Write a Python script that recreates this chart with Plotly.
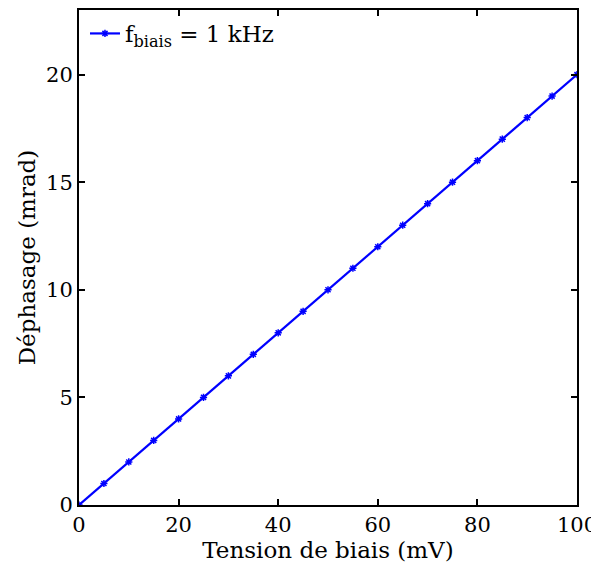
import plotly.graph_objects as go

tension_mv = [0, 5, 10, 15, 20, 25, 30, 35, 40, 45, 50, 55, 60, 65, 70, 75, 80, 85, 90, 95, 100]
dephasage_mrad = [0, 1, 2, 3, 4, 5, 6, 7, 8, 9, 10, 11, 12, 13, 14, 15, 16, 17, 18, 19, 20]
x_ticks = [0, 20, 40, 60, 80, 100]
y_ticks = [0, 5, 10, 15, 20]

font_family = "DejaVu Serif"

fig = go.Figure()
fig.add_trace(go.Scatter(
    x=tension_mv, y=dephasage_mrad, mode="lines+markers",
    name="f<sub>biais</sub> = 1 kHz",
    line=dict(color="#0000ff", width=2.2),
    marker=dict(symbol="asterisk", size=6, color="#0000ff", line=dict(color="#0000ff", width=1.5)),
))

axis_common = dict(
    showgrid=False, zeroline=False, showline=True, linecolor="black", linewidth=2,
    mirror="ticks", ticks="inside", ticklen=6, tickwidth=1.5, tickcolor="black",
    tickfont=dict(family=font_family, size=21, color="black"),
    automargin=False,
)

# the page body has an 8 px default margin, so the figure is offset by (8, 8)
fig.update_layout(
    width=599, height=570,
    margin=dict(l=71, r=30, t=2, b=73),
    paper_bgcolor="white", plot_bgcolor="white",
    font=dict(family=font_family, color="black"),
    showlegend=True,
    legend=dict(x=0.012, y=0.996, xanchor="left", yanchor="top", itemwidth=30,
                bgcolor="rgba(255,255,255,0)", borderwidth=0,
                font=dict(family=font_family, size=23, color="black")),
    xaxis=dict(range=[0, 100], tickvals=x_ticks,
               title=dict(text="Tension de biais (mV)", font=dict(family=font_family, size=23), standoff=0),
               **axis_common),
    yaxis=dict(range=[0, 23], tickvals=y_ticks,
               title=dict(text="Déphasage (mrad)", font=dict(family=font_family, size=23), standoff=4),
               **axis_common),
)

fig.write_html("out.html")
